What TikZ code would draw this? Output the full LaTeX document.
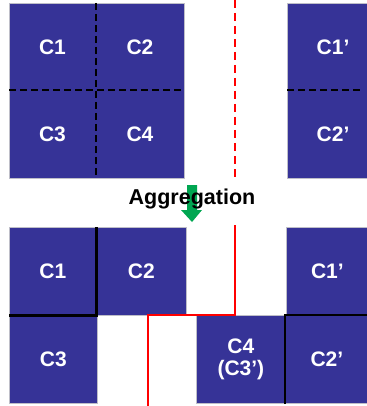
\documentclass[tikz,border=0pt]{standalone}
\usepackage{fontspec}
\setmainfont{Liberation Sans}
\begin{document}
\begin{tikzpicture}[x=1pt,y=-1pt,
  cell/.style={draw={rgb,255:red,190;green,190;blue,200}, line width=0.8pt,
    fill={rgb,255:red,54;green,51;blue,151}, anchor=north west, inner sep=0pt,
    text=white, font=\fontsize{21}{24}\selectfont\bfseries, align=center},
  lbl/.style={font=\fontsize{21}{24}\selectfont\bfseries, text=white},
  grid/.style={black, line width=2.5pt, dash pattern=on 7pt off 4pt},
  cut/.style={red, line width=2.5pt, dash pattern=on 8pt off 5pt},
  seam/.style={black, line width=2.8pt},
  border/.style={red, line width=2.8pt},
]
\useasboundingbox (0,0) rectangle (366,406);

% ---- before aggregation ----
\node[cell, minimum width=175, minimum height=175] (grid) at (9,3) {};
\node[lbl] (t1) at (52.5,47) {C1};
\node[lbl] (t2) at (140,47) {C2};
\node[lbl] (t3) at (52.5,134) {C3};
\node[lbl] (t4) at (140,134) {C4};
\node[cell, minimum width=82, minimum height=175] (gridr) at (287,3) {};
\node[lbl] (t1p) at (333,47) {C1’};
\node[lbl] (t2p) at (333,134) {C2’};

\coordinate (vt) at (96,3);   \coordinate (vb) at (96,178);
\coordinate (hl) at (9,90);   \coordinate (hr) at (184,90);
\coordinate (rhl) at (287,90); \coordinate (rhr) at (363,90);
\draw[grid] (vt) -- (vb);
\draw[grid] (hl) -- (hr);
\draw[grid] (rhl) -- (rhr);
\coordinate (ct) at (235,0); \coordinate (cb) at (235,178);
\draw[cut] (ct) -- (cb);

% ---- aggregation step ----
\fill[fill={rgb,255:red,0;green,166;blue,81}]
  (187,185) -- (197,185) -- (197,210) -- (202,210) -- (192,222)
  -- (181,210) -- (187,210) -- cycle;
\node[font=\fontsize{21.5}{24}\selectfont\bfseries] (agg) at (192,199) {Aggregation};

% ---- after aggregation ----
\node[cell, minimum width=87, minimum height=88] (c1) at (9,227) {C1};
\node[cell, minimum width=90, minimum height=88] (c2) at (96,227) {C2};
\node[cell, minimum width=88, minimum height=88] (c3) at (9,315) {C3};
\node[cell, minimum width=89, minimum height=88] (c4) at (196,315) {C4\\[-2pt](C3’)};
\node[cell, minimum width=82, minimum height=88] (c1p) at (286,227) {C1’};
\node[cell, minimum width=83, minimum height=88] (c2p) at (285,315) {C2’};

\draw[seam] (c1.north east) -- (c1.south east) -- (c1.south west);
\draw[seam] (c2p.south west) -- (c2p.north west) -- (c2p.north east);

\coordinate (r1) at (235,225);
\coordinate (r2) at (235,315);
\coordinate (r3) at (148,315);
\coordinate (r4) at (148,406);
\draw[border] (r1) -- (r2) -- (r3) -- (r4);
\end{tikzpicture}
\end{document}
